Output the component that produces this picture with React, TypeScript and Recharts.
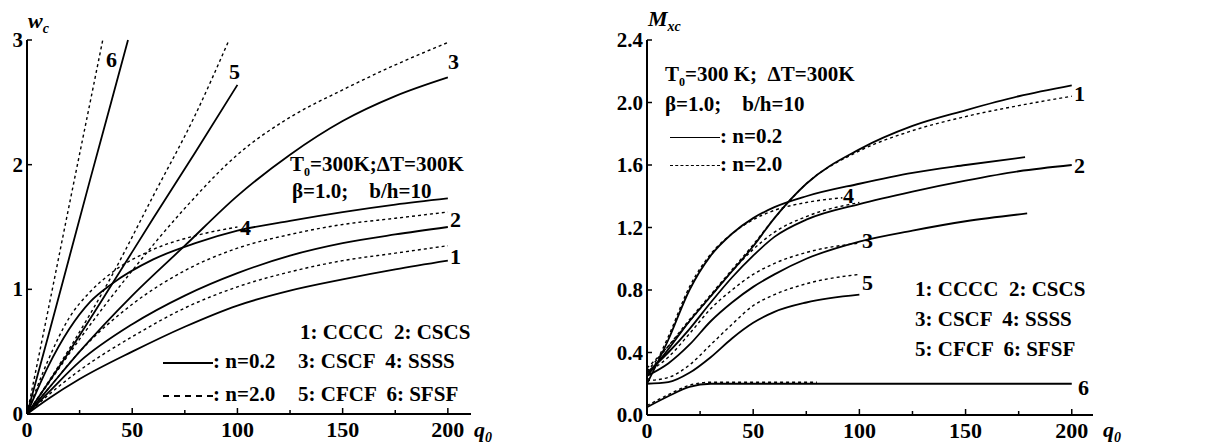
import { LineChart, Line, XAxis, YAxis } from "recharts";

// ---- left panel: w_c vs q0 ----
const qA = [0, 10, 25, 50, 75, 100, 125, 150, 175, 200];
const w1Solid = [0, 0.12, 0.28, 0.5, 0.7, 0.87, 0.99, 1.08, 1.16, 1.23];
const w1Dash = [0, 0.15, 0.35, 0.62, 0.85, 1.02, 1.14, 1.23, 1.29, 1.35];
const w2Solid = [0, 0.17, 0.42, 0.72, 0.95, 1.13, 1.27, 1.37, 1.44, 1.5];
const w2Dash = [0, 0.2, 0.5, 0.88, 1.15, 1.33, 1.44, 1.52, 1.57, 1.62];
const w3Solid = [0, 0.2, 0.5, 0.95, 1.35, 1.75, 2.08, 2.35, 2.55, 2.7];
const w3Dash = [0, 0.24, 0.6, 1.15, 1.65, 2.08, 2.38, 2.6, 2.8, 2.98];

const qW4 = [0, 10, 20, 30, 40, 60, 80, 100, 125, 150, 175, 200];
const w4Solid = [0, 0.38, 0.68, 0.9, 1.04, 1.24, 1.37, 1.47, 1.55, 1.62, 1.68, 1.73];
const qW4d = [0, 10, 20, 30, 40, 60, 80, 100];
const w4Dash = [0, 0.43, 0.77, 0.98, 1.13, 1.32, 1.43, 1.5];

const qW5 = [0, 20, 40, 60, 80, 100];
const w5Solid = [0, 0.5, 1.03, 1.57, 2.1, 2.64];
const qW5d = [0, 20, 40, 60, 80, 96];
const w5Dash = [0, 0.52, 1.1, 1.75, 2.4, 3.0];

const qW6 = [0, 10, 20, 30, 40, 48];
const w6Solid = [0, 0.62, 1.25, 1.88, 2.5, 3.0];
const qW6d = [0, 10, 20, 30, 36];
const w6Dash = [0, 0.83, 1.67, 2.5, 3.0];

// ---- right panel: M_xc vs q0 ----
const qB = [0, 10, 20, 30, 40, 50, 60, 75, 100, 125, 150, 175, 200];
const m1Solid = [0.25, 0.42, 0.6, 0.76, 0.92, 1.08, 1.26, 1.48, 1.7, 1.85, 1.95, 2.04, 2.11];
const m1Dash = [0.28, 0.44, 0.61, 0.77, 0.93, 1.09, 1.26, 1.48, 1.69, 1.82, 1.91, 1.98, 2.04];
const m2Solid = [0.27, 0.4, 0.55, 0.72, 0.88, 1.02, 1.14, 1.25, 1.35, 1.43, 1.5, 1.56, 1.6];
const qB100 = [0, 10, 20, 30, 40, 50, 60, 75, 100];
const m2Dash = [0.3, 0.44, 0.6, 0.76, 0.92, 1.06, 1.17, 1.27, 1.36];
const qM3 = [0, 10, 20, 30, 40, 50, 60, 75, 100, 125, 150, 179];
const m3Solid = [0.25, 0.33, 0.45, 0.6, 0.72, 0.82, 0.9, 1.0, 1.11, 1.18, 1.24, 1.29];
const m3Dash = [0.27, 0.37, 0.52, 0.68, 0.8, 0.9, 0.97, 1.04, 1.1];
const qM4 = [0, 10, 20, 30, 40, 50, 60, 75, 100, 125, 150, 178];
const m4Solid = [0.2, 0.48, 0.8, 1.02, 1.16, 1.26, 1.33, 1.4, 1.48, 1.55, 1.6, 1.65];
const qM4d = [0, 10, 20, 30, 40, 50, 60, 75, 92];
const m4Dash = [0.22, 0.5, 0.82, 1.03, 1.16, 1.25, 1.31, 1.36, 1.39];
const m5Solid = [0.2, 0.21, 0.27, 0.37, 0.49, 0.59, 0.66, 0.72, 0.77];
const m5Dash = [0.22, 0.24, 0.32, 0.45, 0.58, 0.7, 0.77, 0.84, 0.9];
const qM6 = [0, 10, 20, 30, 50, 100, 150, 200];
const m6Solid = [0.05, 0.12, 0.18, 0.2, 0.2, 0.2, 0.2, 0.2];
const qM6d = [0, 10, 20, 30, 50, 80];
const m6Dash = [0.06, 0.13, 0.19, 0.21, 0.21, 0.21];

const xTicks = [0, 25, 50, 75, 100, 125, 150, 175, 200];
const wTicks = [0, 1, 2, 3];
const mTicks = [0, 0.4, 0.8, 1.2, 1.6, 2.0, 2.4];

const zip = (q: number[], v: number[]) => q.map((x, i) => ({ q: x, v: v[i] }));

const leftSeries = [
  { id: "w1s", d: zip(qA, w1Solid), dash: false },
  { id: "w1d", d: zip(qA, w1Dash), dash: true },
  { id: "w2s", d: zip(qA, w2Solid), dash: false },
  { id: "w2d", d: zip(qA, w2Dash), dash: true },
  { id: "w3s", d: zip(qA, w3Solid), dash: false },
  { id: "w3d", d: zip(qA, w3Dash), dash: true },
  { id: "w4s", d: zip(qW4, w4Solid), dash: false },
  { id: "w4d", d: zip(qW4d, w4Dash), dash: true },
  { id: "w5s", d: zip(qW5, w5Solid), dash: false },
  { id: "w5d", d: zip(qW5d, w5Dash), dash: true },
  { id: "w6s", d: zip(qW6, w6Solid), dash: false },
  { id: "w6d", d: zip(qW6d, w6Dash), dash: true },
];

const rightSeries = [
  { id: "m1s", d: zip(qB, m1Solid), dash: false },
  { id: "m1d", d: zip(qB, m1Dash), dash: true },
  { id: "m2s", d: zip(qB, m2Solid), dash: false },
  { id: "m2d", d: zip(qB100, m2Dash), dash: true },
  { id: "m3s", d: zip(qM3, m3Solid), dash: false },
  { id: "m3d", d: zip(qB100, m3Dash), dash: true },
  { id: "m4s", d: zip(qM4, m4Solid), dash: false },
  { id: "m4d", d: zip(qM4d, m4Dash), dash: true },
  { id: "m5s", d: zip(qB100, m5Solid), dash: false },
  { id: "m5d", d: zip(qB100, m5Dash), dash: true },
  { id: "m6s", d: zip(qM6, m6Solid), dash: false },
  { id: "m6d", d: zip(qM6d, m6Dash), dash: true },
];

const FONT = "Liberation Serif, Times New Roman, serif";

const XTick = (props: any) => {
  const { x, y, payload } = props;
  const major = payload.value % 50 === 0;
  return (
    <g>
      <line x1={x} y1={y} x2={x} y2={y - (major ? 6 : 4)} stroke="#000" strokeWidth={1.5} />
      {major && (
        <text x={x} y={y + 23} textAnchor="middle" fontFamily={FONT} fontSize={22} fontWeight="bold" fill="#000">
          {payload.value}
        </text>
      )}
    </g>
  );
};

const makeYTick = (fmt: (v: number) => string) => (props: any) => {
  const { x, y, payload } = props;
  return (
    <g>
      <line x1={x} y1={y} x2={x + 5} y2={y} stroke="#000" strokeWidth={1.5} />
      <text x={x - 4} y={y + 7} textAnchor="end" fontFamily={FONT} fontSize={21} fontWeight="bold" fill="#000">
        {fmt(payload.value)}
      </text>
    </g>
  );
};

const txt = (left: number, top: number, size = 21, extra: any = {}) => ({
  position: "absolute" as const,
  left,
  top,
  fontFamily: FONT,
  fontSize: size,
  fontWeight: "bold" as const,
  lineHeight: 1,
  whiteSpace: "pre" as const,
  color: "#000",
  ...extra,
});

function Panel({ series, width, yWidth, rightM, yMax, yTicks, fmt, xMax, xH }: any) {
  return (
    <LineChart width={width} height={444} margin={{ top: 40, right: rightM, bottom: 0, left: 0 }}>
      <XAxis
        type="number"
        dataKey="q"
        domain={[0, xMax]}
        ticks={xTicks}
        tick={<XTick />}
        tickSize={0}
        tickMargin={0}
        height={xH}
        axisLine={{ stroke: "#000", strokeWidth: 2 }}
        interval={0}
      />
      <XAxis xAxisId="top" type="number" dataKey="q" domain={[0, xMax]} orientation="top" height={0} tick={false} tickLine={false} axisLine={{ stroke: "#000", strokeWidth: 2 }} />
      <YAxis
        type="number"
        domain={[0, yMax]}
        ticks={yTicks}
        tick={makeYTick(fmt)}
        tickSize={0}
        tickMargin={0}
        width={yWidth}
        axisLine={{ stroke: "#000", strokeWidth: 2 }}
        interval={0}
      />
      <YAxis yAxisId="right" orientation="right" domain={[0, yMax]} width={0} tick={false} tickLine={false} axisLine={{ stroke: "#000", strokeWidth: 2 }} />
      {series.map((s: any) => (
        <Line
          key={s.id}
          data={s.d}
          dataKey="v"
          type="monotone"
          stroke="#000"
          strokeWidth={s.dash ? 1.4 : 1.8}
          strokeDasharray={s.dash ? "3 3" : undefined}
          dot={false}
          isAnimationActive={false}
        />
      ))}
    </LineChart>
  );
}

export default function App() {
  return (
    <div style={{ position: "absolute", left: 0, top: 0, width: 1206, height: 444, background: "#fff", overflow: "hidden" }}>
      <div style={{ position: "absolute", left: 0, top: 0 }}>
        <Panel series={leftSeries} width={500} yWidth={27} rightM={29} yMax={3} yTicks={wTicks} fmt={(v: number) => String(v)} xMax={211} xH={30} />
      </div>
      <div style={{ position: "absolute", left: 600, top: 0 }}>
        <Panel series={rightSeries} width={606} yWidth={47} rightM={113} yMax={2.4} yTicks={mTicks} fmt={(v: number) => v.toFixed(1)} xMax={210} xH={29} />
      </div>

      {/* left panel texts */}
      <div style={txt(28, 10, 22, { fontStyle: "italic" })}>w<sub style={{ fontSize: 14 }}>c</sub></div>
      <div style={txt(474, 419, 22, { fontStyle: "italic" })}>q<sub style={{ fontSize: 14 }}>0</sub></div>
      <div style={txt(106, 49, 22)}>6</div>
      <div style={txt(229, 61, 22)}>5</div>
      <div style={txt(448, 51, 22)}>3</div>
      <div style={txt(240, 217, 22)}>4</div>
      <div style={txt(450, 209, 22)}>2</div>
      <div style={txt(450, 246, 22)}>1</div>
      <div style={txt(290, 154)}>T<sub style={{ fontSize: 12 }}>0</sub>=300K;ΔT=300K</div>
      <div style={txt(292, 181)}>β=1.0;    b/h=10</div>
      <div style={txt(300, 322)}>1: CCCC  2: CSCS</div>
      <div style={txt(298, 351)}>3: CSCF  4: SSSS</div>
      <div style={txt(298, 384)}>5: CFCF  6: SFSF</div>
      <div style={{ position: "absolute", left: 163, top: 362, width: 50, borderTop: "2px solid #000" }} />
      <div style={{ position: "absolute", left: 163, top: 395, width: 50, borderTop: "2px dashed #000" }} />
      <div style={txt(213, 351)}>: n=0.2</div>
      <div style={txt(213, 384)}>: n=2.0</div>

      {/* right panel texts */}
      <div style={txt(648, 8, 22, { fontStyle: "italic" })}>M<sub style={{ fontSize: 14 }}>xc</sub></div>
      <div style={txt(1103, 419, 22, { fontStyle: "italic" })}>q<sub style={{ fontSize: 14 }}>0</sub></div>
      <div style={txt(665, 64)}>T<sub style={{ fontSize: 12 }}>0</sub>=300 K;  ΔT=300K</div>
      <div style={txt(665, 94)}>β=1.0;    b/h=10</div>
      <div style={{ position: "absolute", left: 670, top: 137, width: 50, borderTop: "1.5px solid #000" }} />
      <div style={{ position: "absolute", left: 670, top: 165, width: 50, borderTop: "1.5px dashed #000" }} />
      <div style={txt(720, 126)}>: n=0.2</div>
      <div style={txt(720, 154)}>: n=2.0</div>
      <div style={txt(915, 279)}>1: CCCC  2: CSCS</div>
      <div style={txt(915, 309)}>3: CSCF  4: SSSS</div>
      <div style={txt(915, 339)}>5: CFCF  6: SFSF</div>
      <div style={txt(1074, 83, 22)}>1</div>
      <div style={txt(1074, 155, 22)}>2</div>
      <div style={txt(843, 185, 22)}>4</div>
      <div style={txt(862, 230, 22)}>3</div>
      <div style={txt(862, 272, 22)}>5</div>
      <div style={txt(1078, 377, 22)}>6</div>
    </div>
  );
}
